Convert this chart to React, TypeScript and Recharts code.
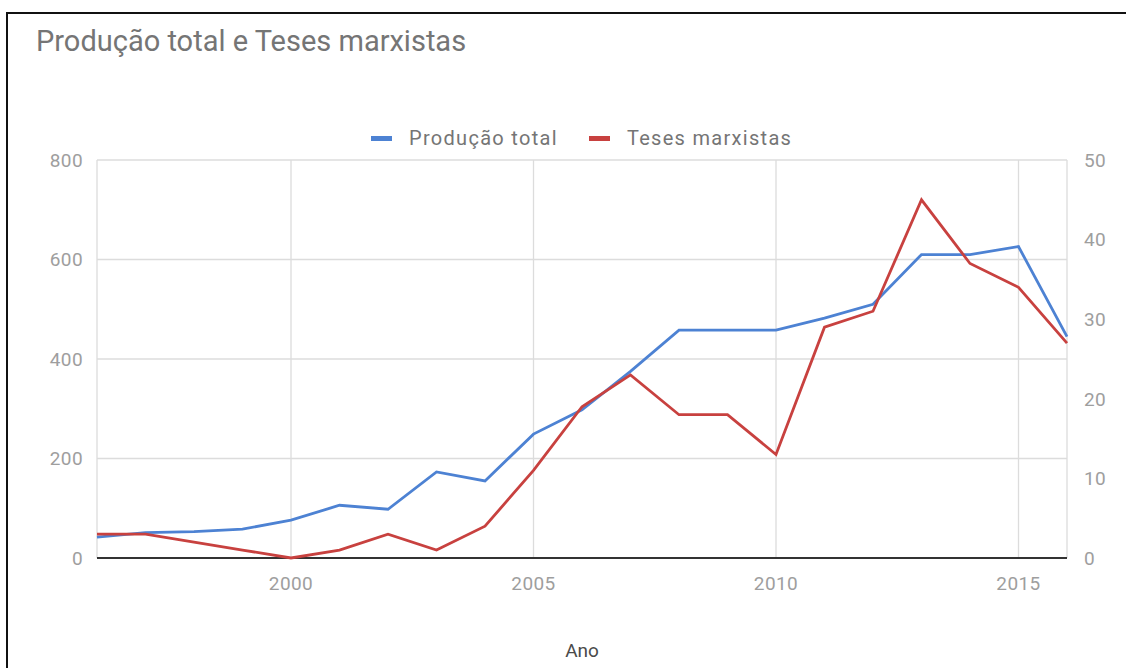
import React from "react";
import {
  LineChart,
  Line,
  XAxis,
  YAxis,
  CartesianGrid,
  ReferenceLine,
  Label,
} from "recharts";

const years = [1996, 1997, 1998, 1999, 2000, 2001, 2002, 2003, 2004, 2005, 2006, 2007, 2008, 2009, 2010, 2011, 2012, 2013, 2014, 2015, 2016];
const producaoTotal = [42, 51, 53, 58, 76, 106, 98, 173, 155, 249, 298, 375, 458, 458, 458, 482, 510, 610, 610, 626, 445];
const tesesMarxistas = [3, 3, 2, 1, 0, 1, 3, 1, 4, 11, 19, 23, 18, 18, 13, 29, 31, 45, 37, 34, 27];
const xTicks = [2000, 2005, 2010, 2015];
const leftTicks = [0, 200, 400, 600, 800];
const rightTicks = [0, 10, 20, 30, 40, 50];

const seriesNames = ["Produção total", "Teses marxistas"];
const colors = ["#4d82d3", "#c8413f"];
const titleText = "Produção total e Teses marxistas";
const xAxisTitle = "Ano";

const data = years.map((y, i) => ({
  year: y,
  producao: producaoTotal[i],
  teses: tesesMarxistas[i],
}));

const FONT = "Roboto, 'Noto Sans', sans-serif";
const tickStyle = { fill: "#9e9e9e", fontSize: 19, fontFamily: FONT, letterSpacing: 0.4 };

export default function App() {
  return (
    <div
      style={{
        position: "absolute",
        left: 0,
        top: 0,
        width: 1126,
        height: 668,
        overflow: "hidden",
        background: "#fff",
        fontFamily: FONT,
      }}
    >
      <div
        style={{
          position: "absolute",
          left: 6,
          top: 12,
          width: 1200,
          height: 800,
          border: "2px solid #111",
          boxSizing: "border-box",
        }}
      />
      <div
        style={{
          position: "absolute",
          left: 36,
          top: 24,
          fontSize: 29,
          color: "#757575",
          whiteSpace: "nowrap",
          lineHeight: "34px",
        }}
      >
        {titleText}
      </div>
      <div
        style={{
          position: "absolute",
          left: 371,
          top: 126,
          display: "flex",
          alignItems: "center",
          fontSize: 20,
          letterSpacing: 1.3,
          color: "#757575",
          whiteSpace: "nowrap",
          lineHeight: "24px",
        }}
      >
        <span style={{ display: "inline-block", width: 21, height: 5, background: colors[0], marginRight: 17 }} />
        <span style={{ marginRight: 31 }}>{seriesNames[0]}</span>
        <span style={{ display: "inline-block", width: 21, height: 5, background: colors[1], marginRight: 17 }} />
        <span>{seriesNames[1]}</span>
      </div>
      <div style={{ position: "absolute", left: 0, top: 0 }}>
        <LineChart
          width={1126}
          height={668}
          data={data}
          margin={{ top: 160, right: 0, bottom: 0, left: 0 }}
        >
          <CartesianGrid yAxisId="left" stroke="#dcdcdc" strokeWidth={1.3} />
          <XAxis
            dataKey="year"
            type="number"
            domain={[1996, 2016]}
            ticks={xTicks}
            axisLine={false}
            tickLine={false}
            tickSize={0}
            tickMargin={19}
            height={110}
            tick={tickStyle}
          >
            <Label
              value={xAxisTitle}
              position="insideBottom"
              offset={11}
              style={{ fill: "#4a4a4a", fontSize: 19, fontFamily: FONT }}
            />
          </XAxis>
          <YAxis
            yAxisId="left"
            orientation="left"
            domain={[0, 800]}
            ticks={leftTicks}
            width={97}
            axisLine={false}
            tickLine={false}
            tickSize={0}
            tickMargin={14}
            tick={tickStyle}
          />
          <YAxis
            yAxisId="right"
            orientation="right"
            domain={[0, 50]}
            ticks={rightTicks}
            width={59}
            axisLine={false}
            tickLine={false}
            tickSize={0}
            tickMargin={17}
            tick={tickStyle}
          />
          <ReferenceLine yAxisId="left" y={0} stroke="#333" strokeWidth={2} />
          <Line
            yAxisId="left"
            type="linear"
            dataKey="producao"
            name={seriesNames[0]}
            stroke={colors[0]}
            strokeWidth={2.8}
            dot={false}
            isAnimationActive={false}
          />
          <Line
            yAxisId="right"
            type="linear"
            dataKey="teses"
            name={seriesNames[1]}
            stroke={colors[1]}
            strokeWidth={2.8}
            dot={false}
            isAnimationActive={false}
          />
        </LineChart>
      </div>
    </div>
  );
}
